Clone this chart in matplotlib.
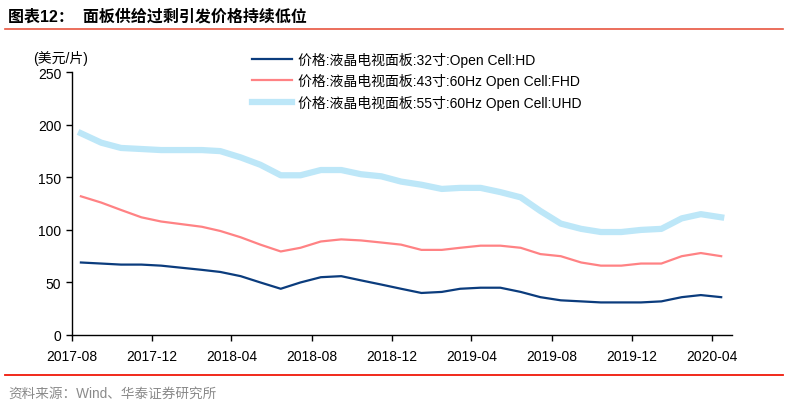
import matplotlib
matplotlib.use("Agg")
import matplotlib.pyplot as plt
import matplotlib.dates as mdates
from matplotlib.lines import Line2D
import pandas as pd

plt.rcParams['font.family'] = ['Liberation Sans', 'Noto Sans CJK SC', 'DejaVu Sans']

# monthly observations, 2017-08 .. 2020-04 (plotted mid-month)
months = pd.date_range('2017-08-01', periods=33, freq='MS') + pd.Timedelta(days=14)

hd_32 = [69, 68, 67, 67, 66, 64, 62, 60, 56, 50, 44, 50, 55, 56, 52, 48,
         44, 40, 41, 44, 45, 45, 41, 36, 33, 32, 31, 31, 31, 32, 36, 38, 36]
fhd_43 = [132, 126, 119, 112, 108, 105.5, 103, 99, 93, 86, 79.5, 83, 89, 91, 90, 88,
          86, 81, 81, 83, 85, 85, 83, 77, 75, 69, 66, 66, 68, 68, 75, 78, 75]
uhd_55 = [192, 183, 178, 177, 176, 176, 176, 175, 169, 162, 152, 152, 157, 157, 153, 151,
          146, 143, 139, 140, 140, 136, 131, 118, 106, 101, 98, 98, 100, 101, 111, 115, 112]

labels = ['价格:液晶电视面板:32寸:Open Cell:HD',
          '价格:液晶电视面板:43寸:60Hz Open Cell:FHD',
          '价格:液晶电视面板:55寸:60Hz Open Cell:UHD']

W, H = 788, 402
fig = plt.figure(figsize=(W / 100, H / 100), dpi=100)
ax = fig.add_axes([71.7 / W, 1 - 336 / H, 660 / W, 262.7 / H])

ax.plot(months, hd_32, color='#0B3C7D', lw=1.6, label=labels[0])
ax.plot(months, fhd_43, color='#FF8284', lw=1.6, label=labels[1])
ax.plot(months, uhd_55, color='#BDE7F8', lw=4.5, label=labels[2])

ax.set_xlim(pd.Timestamp('2017-08-01'), pd.Timestamp('2020-05-01'))
ax.set_ylim(0, 250)
ax.set_yticks(range(0, 251, 50))
ax.xaxis.set_major_locator(mdates.MonthLocator(bymonth=[4, 8, 12]))
ax.xaxis.set_major_formatter(mdates.DateFormatter('%Y-%m'))
ax.tick_params(axis='both', labelsize=10, direction='out', length=4, width=1, colors='black')
ax.tick_params(axis='x', pad=6)
for side in ['top', 'right']:
    ax.spines[side].set_visible(False)
for side in ['left', 'bottom']:
    ax.spines[side].set_linewidth(1)

ax.legend(loc='upper left', bbox_to_anchor=(252 / W, 1 - 53 / H),
          bbox_transform=fig.transFigure, frameon=False, fontsize=10,
          borderpad=0, borderaxespad=0, handlelength=2.9, handletextpad=0.4,
          labelspacing=0.45)

fig.text(60.5 / W, 1 - 58 / H, '(美元/片)', ha='center', va='center', fontsize=10)

fig.text(8 / W, 1 - 17 / H, '图表12：  面板供给过剩引发价格持续低位', ha='left', va='center',
         fontsize=11.5, fontweight='bold')
fig.add_artist(Line2D([5 / W, 783 / W], [1 - 30 / H, 1 - 30 / H], color='#E8553F', lw=1.2))
fig.add_artist(Line2D([5 / W, 783 / W], [1 - 376 / H, 1 - 376 / H], color='#F01808', lw=1.3))
fig.text(8 / W, 1 - 394 / H, '资料来源：Wind、华泰证券研究所', ha='left', va='center',
         fontsize=9.8, color='#8A8A8A')

fig.savefig('out.png', dpi=100)
